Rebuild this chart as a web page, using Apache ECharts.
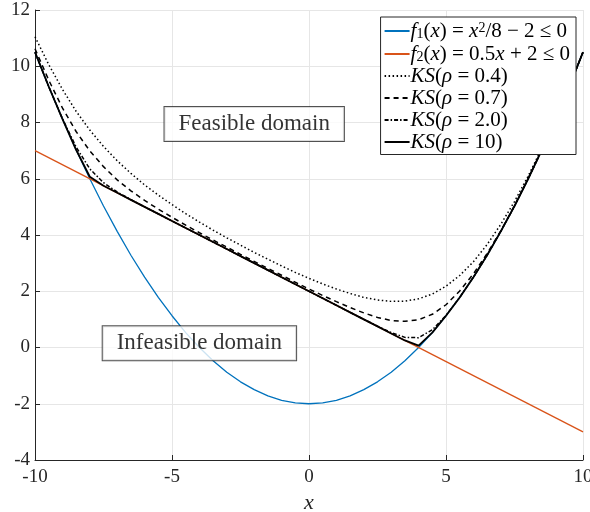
<!DOCTYPE html>
<html>
<head>
<meta charset="utf-8">
<script src="https://cdn.jsdelivr.net/npm/echarts@6/dist/echarts.min.js"></script>
<style>
  html, body { margin: 0; padding: 0; background: #fff; }
  #chart { width: 590px; height: 512px; }
</style>
</head>
<body>
<div id="chart"></div>
<script>
// Sample positions along x
const xs = [-10, -9.5, -9, -8.5, -8, -7.5, -7, -6.5, -6, -5.5, -5, -4.5, -4, -3.5, -3, -2.5, -2, -1.5, -1, -0.5,
            0, 0.5, 1, 1.5, 2, 2.5, 3, 3.5, 4, 4.5, 5, 5.5, 6, 6.5, 7, 7.5, 8, 8.5, 9, 9.5, 10];

// Constraint f1 (parabola)
const f1Vals = [10.5, 9.28, 8.13, 7.03, 6, 5.03, 4.13, 3.28, 2.5, 1.78, 1.13, 0.53, 0, -0.47, -0.88, -1.22, -1.5, -1.72, -1.88, -1.97,
                -2, -1.97, -1.88, -1.72, -1.5, -1.22, -0.88, -0.47, 0, 0.53, 1.13, 1.78, 2.5, 3.28, 4.13, 5.03, 6, 7.03, 8.13, 9.28, 10.5];

// Constraint f2 (straight line, end points)
const f2X = [-10, 10];
const f2Vals = [7, -3];

// KS aggregates for several rho values
const ks04 = [11.05, 10.06, 9.18, 8.40, 7.73, 7.15, 6.64, 6.19, 5.78, 5.42, 5.08, 4.76, 4.46, 4.17, 3.90, 3.64, 3.38, 3.14, 2.90, 2.67,
              2.46, 2.26, 2.08, 1.92, 1.78, 1.69, 1.64, 1.65, 1.73, 1.90, 2.18, 2.56, 3.05, 3.66, 4.38, 5.19, 6.10, 7.09, 8.16, 9.30, 10.51];
const ks07 = [10.62, 9.51, 8.52, 7.68, 6.99, 6.43, 5.96, 5.57, 5.23, 4.92, 4.63, 4.35, 4.08, 3.82, 3.57, 3.31, 3.06, 2.81, 2.57, 2.32,
              2.08, 1.85, 1.63, 1.42, 1.23, 1.07, 0.96, 0.93, 0.99, 1.18, 1.52, 2.01, 2.62, 3.34, 4.15, 5.04, 6.01, 7.03, 8.13, 9.28, 10.5];
const ks20 = [10.50, 9.28, 8.14, 7.13, 6.35, 5.86, 5.53, 5.26, 5.00, 4.75, 4.50, 4.25, 4.00, 3.75, 3.50, 3.25, 3.00, 2.75, 2.50, 2.25,
              2.00, 1.75, 1.50, 1.25, 1.00, 0.76, 0.53, 0.36, 0.35, 0.63, 1.14, 1.78, 2.50, 3.28, 4.13, 5.03, 6.00, 7.03, 8.13, 9.28, 10.50];
const ks10 = [10.5, 9.28, 8.13, 7.03, 6.07, 5.75, 5.5, 5.25, 5, 4.75, 4.5, 4.25, 4, 3.75, 3.5, 3.25, 3, 2.75, 2.5, 2.25,
              2, 1.75, 1.5, 1.25, 1, 0.75, 0.5, 0.25, 0.07, 0.53, 1.13, 1.78, 2.5, 3.28, 4.13, 5.03, 6, 7.03, 8.13, 9.28, 10.5];

// Region annotations
const noteText = ['Feasible domain', 'Infeasible domain'];
const noteX = [-2, -4];
const noteY = [7.95, 0.15];

// Axis ranges
const xRange = [-10, 10, 5];
const yRange = [-4, 12, 2];

const serif = '"Liberation Serif", "DejaVu Serif", serif';
const axisColor = '#262626';

const pairs = (xv, yv) => xv.map((x, i) => [x, yv[i]]);

const legendRich = {
  i: { fontFamily: serif, fontStyle: 'italic', fontSize: 21, lineHeight: 20, color: '#000' },
  r: { fontFamily: serif, fontSize: 21, lineHeight: 20, color: '#000' },
  sub: { fontFamily: serif, fontSize: 14, lineHeight: 20, color: '#000', verticalAlign: 'bottom', padding: [7, 0, 0, 0] },
  supr: { fontFamily: serif, fontSize: 14, lineHeight: 20, color: '#000', verticalAlign: 'top', padding: [0, 0, 7, 0] }
};
const legendLabels = {
  f1: '{i|f}{sub|1}{r|(}{i|x}{r|) = }{i|x}{supr|2}{r|/8 − 2 ≤ 0}',
  f2: '{i|f}{sub|2}{r|(}{i|x}{r|) = 0.5}{i|x}{r| + 2 ≤ 0}',
  k04: '{i|KS}{r|(}{i|ρ}{r| = 0.4)}',
  k07: '{i|KS}{r|(}{i|ρ}{r| = 0.7)}',
  k20: '{i|KS}{r|(}{i|ρ}{r| = 2.0)}',
  k10: '{i|KS}{r|(}{i|ρ}{r| = 10)}'
};

function lineSeries(name, data, color, type, width) {
  return {
    name, type: 'line', data, symbol: 'none', showSymbol: false,
    lineStyle: { color, width, type }, itemStyle: { color },
    silent: true, z: 3
  };
}

const chart = echarts.init(document.getElementById('chart'), null, { renderer: 'canvas' });
chart.setOption({
  animation: false,
  backgroundColor: '#fff',
  grid: { left: 35, right: 7, top: 10, bottom: 52, containLabel: false, outerBoundsMode: 'none' },
  legend: {
    data: ['f1', 'f2', 'k04', 'k07', 'k20', 'k10'],
    orient: 'vertical',
    right: 14, top: 17,
    itemWidth: 25, itemHeight: 14, itemGap: 1,
    padding: [3, 6, 2, 3],
    backgroundColor: '#fff',
    borderColor: axisColor, borderWidth: 1,
    itemStyle: { color: 'rgba(0,0,0,0)', borderWidth: 0, opacity: 0 },
    formatter: n => legendLabels[n],
    textStyle: { rich: legendRich, fontFamily: serif, fontSize: 21, lineHeight: 20, padding: [0, 0, 0, -4] },
    selectedMode: false
  },
  xAxis: {
    type: 'value', min: xRange[0], max: xRange[1], interval: xRange[2],
    name: 'x', nameLocation: 'middle', nameGap: 31,
    nameTextStyle: { fontFamily: serif, fontStyle: 'italic', fontSize: 22, color: axisColor },
    axisLine: { show: true, onZero: false, lineStyle: { color: axisColor, width: 1 } },
    axisTick: { show: true, inside: true, length: 5, lineStyle: { color: axisColor } },
    axisLabel: { fontFamily: serif, fontSize: 19, color: axisColor, margin: 8 },
    splitLine: { show: true, lineStyle: { color: '#e6e6e6', width: 1 } }
  },
  yAxis: {
    type: 'value', min: yRange[0], max: yRange[1], interval: yRange[2],
    axisLine: { show: true, onZero: false, lineStyle: { color: axisColor, width: 1 } },
    axisTick: { show: true, inside: true, length: 5, lineStyle: { color: axisColor } },
    axisLabel: { fontFamily: serif, fontSize: 19, color: axisColor, margin: 5 },
    splitLine: { show: true, lineStyle: { color: '#e6e6e6', width: 1 } }
  },
  series: [
    lineSeries('f1', pairs(xs, f1Vals), '#0072BD', 'solid', 1.3),
    lineSeries('f2', pairs(f2X, f2Vals), '#D95319', 'solid', 1.3),
    lineSeries('k04', pairs(xs, ks04), '#000', [1.5, 2.5], 1.5),
    lineSeries('k07', pairs(xs, ks07), '#000', [5, 4], 1.5),
    lineSeries('k20', pairs(xs, ks20), '#000', [4, 2, 1.5, 2], 1.5),
    lineSeries('k10', pairs(xs, ks10), '#000', 'solid', 1.8),
    {
      name: 'notes', type: 'scatter', symbolSize: 0, silent: true, z: 5,
      data: noteText.map((t, i) => ({ value: [noteX[i], noteY[i]], name: t })),
      label: {
        show: true, position: 'inside', formatter: p => p.name,
        fontFamily: serif, fontSize: 23, color: '#000',
        backgroundColor: '#fff', borderColor: axisColor, borderWidth: 1,
        padding: [6, 14, 5, 14]
      }
    }
  ]
});
</script>
</body>
</html>
